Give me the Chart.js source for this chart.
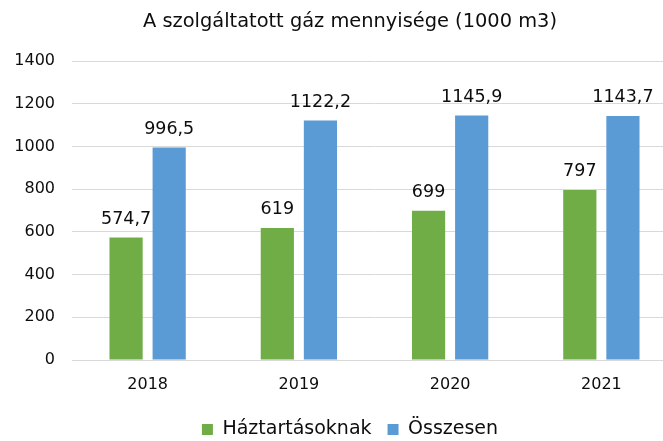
<!DOCTYPE html>
<html>
<head>
<meta charset="utf-8">
<script src="https://cdn.jsdelivr.net/npm/chart.js@4/dist/chart.umd.min.js"></script>
<style>
html,body{margin:0;padding:0;background:#fff;overflow:hidden;width:663px;height:441px;}
#wrap{width:700px;height:441px;position:relative;}
</style>
</head>
<body>
<div id="wrap"><canvas id="c" width="700" height="441"></canvas></div>
<script>
const categories = ['2018', '2019', '2020', '2021'];
const haztartasoknak = [574.7, 619, 699, 797];
const osszesen = [996.5, 1122.2, 1145.9, 1143.7];
const seriesNames = ['Háztartásoknak', 'Összesen'];
const chartTitle = 'A szolgáltatott gáz mennyisége (1000 m3)';
const yMin = 0, yMax = 1400, yStep = 200;

const FONT = "'DejaVu Sans', Verdana, sans-serif";
const TXT = '#0d0d0d';

const valueLabels = {
  id: 'valueLabels',
  afterDatasetsDraw(chart) {
    const ctx = chart.ctx;
    ctx.save();
    ctx.font = '17.5px ' + FONT;
    ctx.fillStyle = TXT;
    ctx.textAlign = 'center';
    ctx.textBaseline = 'alphabetic';
    chart.data.datasets.forEach((ds, i) => {
      chart.getDatasetMeta(i).data.forEach((el, j) => {
        const v = ds.data[j];
        const s = String(v).replace('.', ',');
        ctx.fillText(s, el.x, el.y - 13.5);
      });
    });
    ctx.restore();
  }
};

new Chart(document.getElementById('c'), {
  type: 'bar',
  data: {
    labels: categories,
    datasets: [
      { label: seriesNames[0], data: haztartasoknak, backgroundColor: '#70AD47' },
      { label: seriesNames[1], data: osszesen, backgroundColor: '#5B9BD5' }
    ]
  },
  options: {
    responsive: false,
    animation: false,
    devicePixelRatio: 1,
    categoryPercentage: 0.57,
    barPercentage: 0.77,
    layout: { padding: { left: 0, right: 0, top: 0, bottom: -8 } },
    plugins: {
      title: {
        display: true, text: chartTitle, color: TXT,
        font: { family: FONT, size: 19.4, weight: 'normal' },
        padding: { top: 10, bottom: 28 }
      },
      legend: {
        position: 'bottom',
        labels: {
          color: TXT, font: { family: FONT, size: 19 },
          boxWidth: 11, boxHeight: 11, padding: 16
        }
      },
      tooltip: { enabled: false }
    },
    scales: {
      x: {
        afterFit(scale) { scale.height = 44; },
        grid: { display: false, drawTicks: false },
        border: { display: true, color: '#d9d9d9' },
        ticks: { color: TXT, font: { family: FONT, size: 16 }, padding: 15 }
      },
      y: {
        min: yMin, max: yMax,
        afterFit(scale) { scale.width = 72; },
        grid: { color: '#d9d9d9', drawTicks: false, lineWidth: 1 },
        border: { display: false },
        ticks: { stepSize: yStep, color: TXT, font: { family: FONT, size: 16 }, padding: 17,
                 callback: (v) => String(v) }
      },
      yRight: {
        position: 'right',
        min: yMin, max: yMax,
        afterFit(scale) { scale.width = 23; },
        grid: { display: false, drawTicks: false },
        border: { display: false },
        ticks: { display: false }
      }
    }
  },
  plugins: [valueLabels]
});
</script>
</body>
</html>
